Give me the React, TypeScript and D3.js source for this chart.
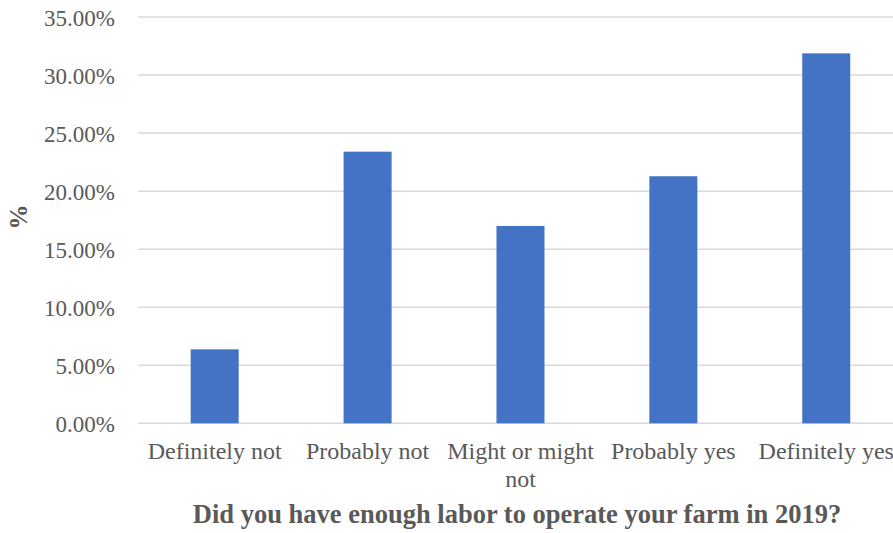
import React from "react";
import * as d3 from "d3";

const categories = ["Definitely not", "Probably not", "Might or might not", "Probably yes", "Definitely yes"];
const values = [6.37, 23.4, 17.0, 21.28, 31.87];
const yTicks = [0, 5, 10, 15, 20, 25, 30, 35];
const categoryLines: string[][] = [["Definitely not"], ["Probably not"], ["Might or might", "not"], ["Probably yes"], ["Definitely yes"]];
const xTitle = "Did you have enough labor to operate your farm in 2019?";
const yTitle = "%";

export default function App() {
  const W = 893, H = 533;
  const x = d3.scaleBand<string>().domain(categories).range([138.25, 902.7]).paddingInner(0.686).paddingOuter(0.343);
  const y = d3.scaleLinear().domain([0, 35]).range([423.3, 17]);
  const font = "'Liberation Serif', 'Times New Roman', serif";
  return (
    <svg width={W} height={H} style={{ position: "absolute", left: 0, top: 0 }}>
      <rect width={W} height={H} fill="#fff" />
      {yTicks.map((t) => (
        <g key={t}>
          <line x1={138.25} x2={W} y1={y(t)} y2={y(t)} stroke="#D9D9D9" strokeWidth={1.5} />
          <text x={115} y={y(t) + 8.5} textAnchor="end" fontFamily={font} fontSize={23} fill="#595959">
            {d3.format(".2f")(t) + "%"}
          </text>
        </g>
      ))}
      {categories.map((c, i) => (
        <rect key={c} x={x(c)} y={y(values[i])} width={x.bandwidth()} height={y(0) - y(values[i])} fill="#4472C4" />
      ))}
      {categories.map((c, i) => (
        <text key={c} x={(x(c) as number) + x.bandwidth() / 2} y={459} textAnchor="middle" fontFamily={font} fontSize={24} fill="#595959">
          {categoryLines[i].map((l, j) => (
            <tspan key={j} x={(x(c) as number) + x.bandwidth() / 2} dy={j === 0 ? 0 : 28}>{l}</tspan>
          ))}
        </text>
      ))}
      <text x={517} y={523} textAnchor="middle" fontFamily={font} fontSize={26.5} fontWeight="bold" fill="#595959">{xTitle}</text>
      <text transform={`translate(27,217) rotate(-90)`} textAnchor="middle" fontFamily={font} fontSize={25} fontWeight="bold" fill="#595959">{yTitle}</text>
    </svg>
  );
}
